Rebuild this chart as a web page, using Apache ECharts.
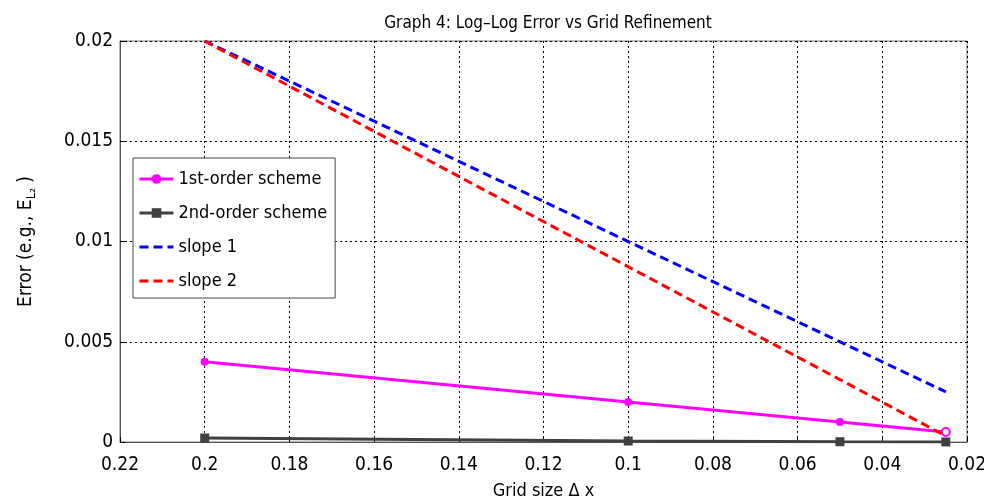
<!DOCTYPE html>
<html>
<head>
<meta charset="utf-8">
<script src="https://cdn.jsdelivr.net/npm/echarts@6/dist/echarts.min.js"></script>
<style>html,body{margin:0;padding:0;background:#fff}#c{width:984px;height:502px}</style>
</head>
<body>
<div id="c"></div>
<script>
var gridSizes = [0.2, 0.1, 0.05, 0.025];
var firstOrder = [0.004, 0.002, 0.001, 0.0005];
var secondOrder = [0.0002, 0.00005, 0.0000125, 0.000003];
var slopeX = [0.2, 0.025];
var slope1 = [0.02, 0.0025];
var slope2 = [0.02, 0.0003];
var xTickLabels = ['0.02','0.04','0.06','0.08','0.1','0.12','0.14','0.16','0.18','0.2','0.22'];
var yTickLabels = ['0','0.005','0.01','0.015','0.02'];

var FONT = '"DejaVu Sans Condensed", "Liberation Sans Narrow", "Roboto", sans-serif';
function pairs(xs, ys){ return xs.map(function(x,i){ return [x, ys[i]]; }); }

var firstData = pairs(gridSizes, firstOrder).map(function(p, i, arr){
  if (i === arr.length - 1) {
    return {value: p, itemStyle: {color: '#fff', borderColor: '#ff00ff', borderWidth: 2}};
  }
  return p;
});

var chart = echarts.init(document.getElementById('c'), null, {renderer:'canvas'});
chart.setOption({
  backgroundColor: '#fff',
  animation: false,
  title: {
    text: 'Graph 4: Log\u2013Log Error vs Grid Refinement',
    left: 543, textAlign: 'center', top: 10,
    textStyle: {fontFamily: FONT, fontSize: 17, fontWeight: 'normal', color: '#000'}
  },
  grid: {left: 120, right: 17, top: 41, bottom: 60, outerBoundsMode: 'none', containLabel: false,
    show: true, borderColor: '#777', borderWidth: 1, backgroundColor: '#fff'},
  legend: {
    orient: 'vertical', left: 133, top: 158,
    backgroundColor: '#fff', borderColor: '#444', borderWidth: 1,
    padding: [12, 8, 8, 5], itemGap: 16, itemWidth: 34, itemHeight: 12,
    textStyle: {fontFamily: FONT, fontSize: 18, color: '#000'},
    data: [
      {name: '1st-order scheme', lineStyle: {width: 3}},
      {name: '2nd-order scheme', lineStyle: {width: 3}},
      {name: 'slope 1', itemStyle: {opacity: 0}, lineStyle: {width: 3}},
      {name: 'slope 2', itemStyle: {opacity: 0}, lineStyle: {width: 3}}
    ]
  },
  xAxis: {
    type: 'value', inverse: true, min: 0.02, max: 0.22, interval: 0.02,
    name: 'Grid size \u0394 x', nameLocation: 'middle', nameGap: 40,
    nameTextStyle: {fontFamily: FONT, fontSize: 18, color: '#000'},
    axisLine: {show: true, lineStyle: {color: '#555'}},
    axisTick: {show: true, inside: true, length: 5, lineStyle: {color: '#000'}},
    axisLabel: {fontFamily: FONT, fontSize: 19, color: '#000', margin: 14,
      showMinLabel: true, showMaxLabel: true,
      formatter: function(v){ return xTickLabels[Math.round((v - 0.02) / 0.02)]; }},
    splitLine: {show: true, lineStyle: {color: '#000', type: [2, 3], width: 1}}
  },
  yAxis: {
    type: 'value', min: 0, max: 0.02, interval: 0.005,
    name: 'Error (e.g., E{s|L\u2082} )', nameLocation: 'middle', nameGap: 82,
    nameTextStyle: {fontFamily: FONT, fontSize: 19, color: '#000',
      rich: {s: {fontFamily: FONT, fontSize: 13, color: '#000', padding: [10, 0, 0, 0]}}},
    axisLine: {show: true, lineStyle: {color: '#555'}},
    axisTick: {show: true, inside: true, length: 5, lineStyle: {color: '#000'}},
    axisLabel: {fontFamily: FONT, fontSize: 19, color: '#000', margin: 7,
      formatter: function(v){ return yTickLabels[Math.round(v / 0.005)]; }},
    splitLine: {show: true, lineStyle: {color: '#000', type: [2, 3], width: 1}}
  },
  series: [
    {name: '1st-order scheme', type: 'line', data: firstData,
     symbol: 'circle', symbolSize: 8, color: '#ff00ff', lineStyle: {width: 3, color: '#ff00ff'},
     itemStyle: {color: '#ff00ff'}, z: 3},
    {name: '2nd-order scheme', type: 'line', data: pairs(gridSizes, secondOrder),
     symbol: 'rect', symbolSize: 9, color: '#404040', lineStyle: {width: 3, color: '#404040'},
     itemStyle: {color: '#404040'}, z: 2},
    {name: 'slope 1', type: 'line', data: pairs(slopeX, slope1), symbol: 'none',
     color: '#0000ff', lineStyle: {width: 3, type: [9, 5], color: '#0000ff'}, z: 4},
    {name: 'slope 2', type: 'line', data: pairs(slopeX, slope2), symbol: 'none',
     color: '#ff0000', lineStyle: {width: 3, type: [9, 5], color: '#ff0000'}, z: 5}
  ]
});
</script>
</body>
</html>
